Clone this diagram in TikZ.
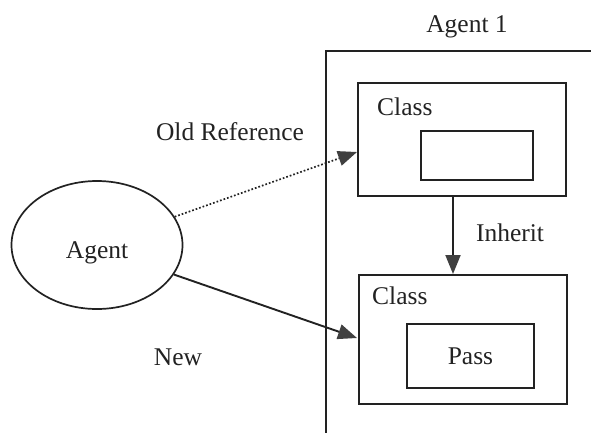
\documentclass[tikz,border=0pt]{standalone}
\usepackage{fontspec}
\setmainfont{Liberation Serif}
\usetikzlibrary{arrows.meta,calc,shapes.geometric}
\definecolor{ink}{HTML}{222222}
\definecolor{tipgray}{HTML}{404040}
\tikzset{
  txt/.style={font=\fontsize{25.5}{30}\selectfont, text=ink, inner sep=0pt},
  boxshape/.style={draw=ink, line width=1.9pt, inner sep=0pt, anchor=north west},
  bigtip/.style={-{Triangle[length=19pt,width=15pt,fill=tipgray,color=tipgray]}},
  link/.style={draw=ink, line width=1.9pt, bigtip},
  oldlink/.style={draw=ink, line width=1.7pt, dotted, bigtip},
}
\begin{document}
\begin{tikzpicture}[x=1pt,y=-1pt]
  \useasboundingbox (0,0) rectangle (591,432);
  \clip (0,0) rectangle (591,432);

  % container for the remote agent (runs past the right and bottom edges)
  \node[boxshape, minimum width=290pt, minimum height=400pt] (agentone) at (325,50) {};
  \node[txt] (agentonelbl) at (467,27) {Agent 1};

  % upper class with its empty member
  \node[boxshape, minimum width=208pt, minimum height=113pt] (classa) at (357,82) {};
  \node[txt, anchor=west] (classalbl) at (377,107) {Class};
  \node[boxshape, minimum width=112pt, minimum height=49pt] (membera) at (420,130) {};

  % lower class holding Pass
  \node[boxshape, minimum width=208pt, minimum height=129pt] (classb) at (358,274) {};
  \node[txt, anchor=west] (classblbl) at (372,296) {Class};
  \node[boxshape, minimum width=127pt, minimum height=64pt] (pass) at (406,323) {};
  \node[txt] (passlbl) at (pass.center) {Pass};

  % local agent
  \node[draw=ink, line width=1.7pt, ellipse, minimum width=171pt, minimum height=128pt, inner sep=0pt] (agent) at (97,245) {};
  \node[txt] (agentlbl) at (97,253) {Agent};

  % labels
  \node[txt] (oldlbl) at (230,132) {Old Reference};
  \node[txt] (newlbl) at (178,357) {New};
  \node[txt] (inheritlbl) at (510,233) {Inherit};

  % connectors
  \coordinate (oldend) at ($(classa.north west)+(0,70)$);
  \coordinate (newend) at ($(classb.north west)+(-1,64)$);
  \coordinate (inhstart) at ($(classa.south west)+(96,0)$);
  \coordinate (inhend) at ($(classb.north west)+(95,0)$);
  \draw[oldlink] (agent.20) -- (oldend);
  \draw[link] (agent.-21) -- (newend);
  \draw[link] (inhstart) -- (inhend);
\end{tikzpicture}
\end{document}
